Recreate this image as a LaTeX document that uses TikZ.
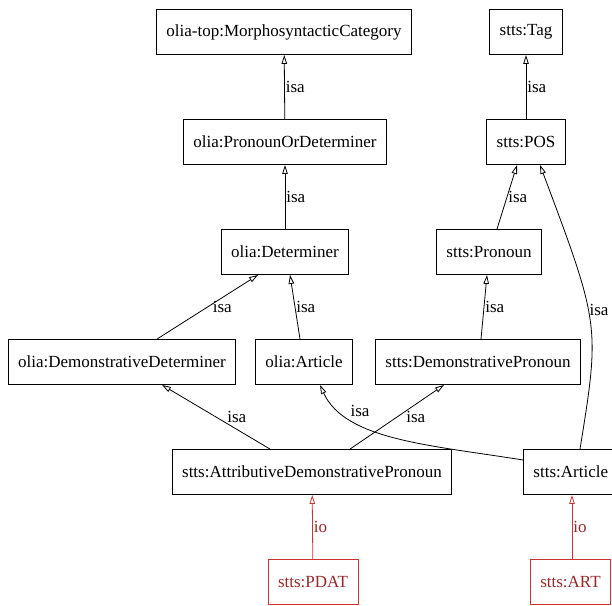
\documentclass[tikz,border=0pt]{standalone}
\usepackage{fontspec}
\setmainfont{Liberation Serif}
\usepackage{tikz}
\usetikzlibrary{arrows.meta, calc}

\definecolor{ioline}{RGB}{204,51,51}
\definecolor{iotext}{RGB}{150,40,40}

\begin{document}
\begin{tikzpicture}[x=1pt, y=-1pt, font=\fontsize{17}{19}\selectfont,
    concept/.style={draw, line width=0.9pt, minimum height=45pt, inner xsep=10pt},
    tagbox/.style={concept, draw=ioline, text=iotext, line width=0.6pt},
    isa/.style={line width=0.8pt, -{Triangle[open, length=9pt, width=5.5pt]}},
    io/.style={isa, draw=ioline},
    lbl/.style={fill=none, inner sep=1pt}]
    \useasboundingbox (0,0) rectangle (612,605);

    % Nodes olia
    \node[concept] (morph) at (284, 32) {olia-top:MorphosyntacticCategory};
    \node[concept] (pronordet) at (285, 142) {olia:PronounOrDeterminer};
    \node[concept] (det) at (285, 252) {olia:Determiner};
    \node[concept] (demdet) at (122, 362) {olia:DemonstrativeDeterminer};
    \node[concept] (oart) at (304, 362) {olia:Article};

    % Nodes stts
    \node[concept] (tag) at (526, 32) {stts:Tag};
    \node[concept] (pos) at (526, 142) {stts:POS};
    \node[concept] (pron) at (489, 252) {stts:Pronoun};
    \node[concept] (dempron) at (478, 362) {stts:DemonstrativePronoun};
    \node[concept] (attr) at (312, 472) {stts:AttributiveDemonstrativePronoun};
    \node[concept, anchor=west] (sart) at (523, 472) {stts:Article};

    % Nodes tags
    \node[tagbox] (pdat) at (313, 582) {stts:PDAT};
    \node[tagbox, anchor=west] (art) at (530, 582) {stts:ART};

    % Connections olia
    \draw[isa] (pronordet) -- node[right, lbl] {isa} (morph);
    \draw[isa] (det) -- node[right, lbl] {isa} (pronordet);
    \draw[isa] ($(demdet.north)+(35,0)$) -- node[right, lbl, pos=0.5, xshift=4pt] {isa} ($(det.south)+(-27,0)$);
    \draw[isa] ($(oart.north)+(-4,0)$) -- node[right, lbl, pos=0.5] {isa} ($(det.south)+(5,0)$);

    % Connections stts
    \draw[isa] (pos) -- node[right, lbl] {isa} (tag);
    \draw[isa] ($(pron.north)+(8,0)$) -- node[right, lbl] {isa} ($(pos.south)+(-9,0)$);
    \draw[isa] ($(dempron.north)+(3,0)$) -- node[right, lbl] {isa} ($(pron.south)+(-2,0)$);
    \draw[isa] ($(sart.north west)+(57,0)$) .. controls (600,325) .. node[pos=0.55, anchor=west, inner sep=0pt, xshift=1pt] {isa} ($(pos.south)+(14,0)$);
    \draw[isa] ($(attr.north)+(-42,0)$) -- node[right, lbl, pos=0.5, xshift=10pt] {isa} ($(demdet.south)+(40,0)$);
    \draw[isa] ($(attr.north)+(38,0)$) -- node[right, lbl, pos=0.5, xshift=8pt] {isa} ($(dempron.south)+(-34,0)$);
    \draw[isa] ($(sart.west)+(0,-12)$) .. controls (430,445) and (345,440) .. node[pos=0.75, above right, lbl] {isa} ($(oart.south)+(16,0)$);

    % Connections io
    \draw[io] (pdat) -- node[right, lbl, text=iotext] {io} (attr);
    \draw[io] ($(art.north west)+(42,0)$) -- node[right, lbl, text=iotext] {io} ($(sart.south west)+(49,0)$);
\end{tikzpicture}
\end{document}
